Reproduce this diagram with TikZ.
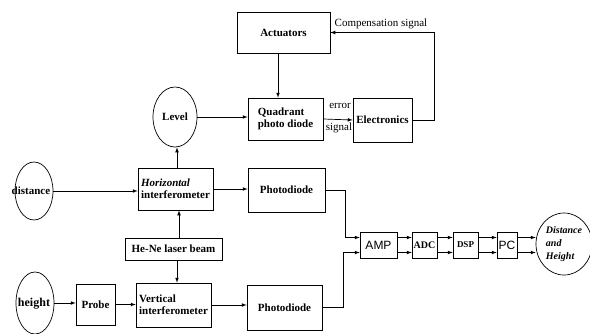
\documentclass[tikz,border=0pt]{standalone}
\usepackage{fontspec}
\setmainfont{Liberation Serif}
\newfontfamily\arialfont{Liberation Sans}
\usetikzlibrary{arrows,shapes.geometric}

\tikzset{
    blk/.style={draw, line width=0.7pt, inner sep=0pt, align=left,
        font=\bfseries\fontsize{11}{12}\selectfont},
    oval/.style={draw, ellipse, line width=0.7pt, inner sep=0pt},
    lbl/.style={inner sep=0pt, font=\fontsize{11}{12}\selectfont},
    sig/.style={->, >=latex, line width=0.7pt}
}

\begin{document}
\begin{tikzpicture}[x=1pt, y=-1pt]
    \useasboundingbox (0,0) rectangle (590,333);

    % control loop
    \node[blk, minimum width=93, minimum height=41] (act) at (283.5,32.5) {Actuators};
    \node[blk, minimum width=75, minimum height=42] (qpd) at (285.5,119) {Quadrant\\photo diode};
    \node[blk, minimum width=59, minimum height=44] (elec) at (382.5,120) {Electronics};
    \node[oval, minimum width=44, minimum height=60, font=\bfseries\fontsize{11}{12}\selectfont] (level) at (175,117) {Level};

    % interferometers
    \node[oval, minimum width=38, minimum height=58] (dist) at (34,191) {};
    \node[lbl, font=\bfseries\fontsize{11}{12}\selectfont] (distT) at (31,191) {distance};
    \node[blk, minimum width=75, minimum height=42] (hint) at (175.5,189) {\textit{Horizontal}\\interferometer};
    \node[blk, minimum width=77, minimum height=44] (pd1) at (286.5,190) {Photodiode};
    \node[blk, minimum width=97, minimum height=22] (laser) at (173.5,249) {He-Ne laser beam};
    \node[oval, minimum width=38, minimum height=62] (height) at (35,303) {};
    \node[lbl, font=\bfseries\fontsize{12}{13}\selectfont] (heightT) at (34,304) {height};
    \node[blk, minimum width=39, minimum height=41] (probe) at (95.5,304.5) {Probe};
    \node[blk, minimum width=75, minimum height=44] (vint) at (173.5,305) {Vertical\\interferometer};
    \node[blk, minimum width=75, minimum height=45] (pd2) at (284.5,307.5) {Photodiode};

    % signal chain
    \def\chainh{26}
    \node[blk, minimum width=37, minimum height=\chainh, font=\arialfont\fontsize{12}{13}\selectfont] (amp) at (378.5,245) {AMP};
    \node[blk, minimum width=25, minimum height=\chainh, font=\bfseries\fontsize{10}{11}\selectfont] (adc) at (424.5,245) {ADC};
    \node[blk, minimum width=25, minimum height=\chainh, font=\bfseries\fontsize{9}{10}\selectfont] (dsp) at (465.5,245) {DSP};
    \node[blk, minimum width=20, minimum height=\chainh, font=\arialfont\fontsize{12}{13}\selectfont] (pc) at (507,245) {PC};
    \node[oval, minimum width=56, minimum height=62] (out) at (564,244) {};
    \node[lbl, align=left, font=\bfseries\itshape\fontsize{10}{13}\selectfont] (outT) at (564,244) {Distance\\and\\Height};

    % connectors
    \draw[sig] (act.south -| 278,0) -- (qpd.north -| 278,0);
    \draw[sig] (level.east) -- (level.east -| qpd.west);
    \draw[sig] (qpd.east) -- (elec.west);
    \draw[sig] (elec.east) -- ++(22,0) |- (act.east);
    \node[lbl] (comp) at (381,24) {Compensation signal};
    \node[lbl] (err) at (340,106) {error};
    \node[lbl] (errs) at (339,128) {signal};

    \draw[sig] (hint.north -| 177,0) -- (level.south -| 177,0);
    \draw[sig] (laser.north -| 179,0) -- (hint.south -| 179,0);
    \draw[sig] (laser.south -| 177,0) -- (vint.north -| 177,0);
    \draw[sig] (dist.east) -- (dist.east -| hint.west);
    \draw[sig] (hint.east) -- (hint.east -| pd1.west);
    \draw[sig] (height.east) -- (height.east -| probe.west);
    \draw[sig] (probe.east) -- (probe.east -| vint.west);
    \draw[sig] (vint.east) -- (vint.east -| pd2.west);

    \draw[sig] (pd1.east) -- ++(20,0) |- ([yshift=7.5pt]amp.west);
    \draw[sig] (pd2.east) -- ++(21,0) |- ([yshift=-7.5pt]amp.west);
    \foreach \a/\b in {amp/adc, adc/dsp, dsp/pc, pc/out} {
        \draw[sig] ([yshift=7.5pt]\a.east) -- ([yshift=7.5pt]\a.east -| \b.west);
        \draw[sig] ([yshift=-7.5pt]\a.east) -- ([yshift=-7.5pt]\a.east -| \b.west);
    }
\end{tikzpicture}
\end{document}
